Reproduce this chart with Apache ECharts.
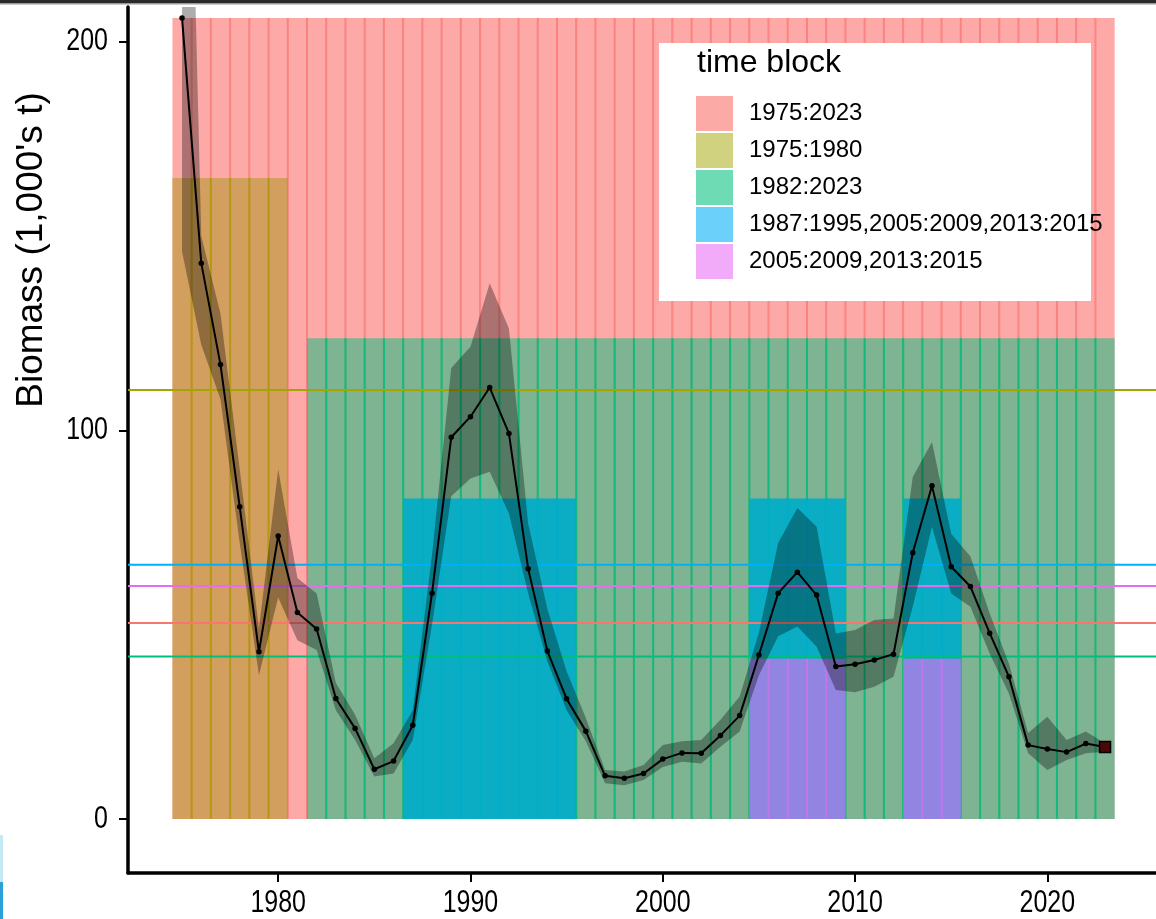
<!DOCTYPE html>
<html>
<head>
<meta charset="utf-8">
<script src="https://cdn.jsdelivr.net/npm/echarts@6/dist/echarts.min.js"></script>
<style>
  html, body { margin: 0; padding: 0; background: #ffffff; }
  #chart { width: 1156px; height: 919px; }
</style>
</head>
<body>
<div id="chart"></div>
<script>
// Annual biomass estimates (1,000's t) with their uncertainty band
const years = [1975,1976,1977,1978,1979,1980,1981,1982,1983,1984,1985,1986,1987,1988,1989,1990,1991,1992,1993,1994,1995,1996,1997,1998,1999,2000,2001,2002,2003,2004,2005,2006,2007,2008,2009,2010,2011,2012,2013,2014,2015,2016,2017,2018,2019,2020,2021,2022,2023];
const biomass = [206.1,143.0,116.9,80.3,43.0,72.8,53.1,48.9,31.0,23.3,12.8,14.9,24.1,58.1,98.2,103.5,111.0,99.2,64.4,43.2,30.9,22.6,11.1,10.5,11.7,15.4,17.0,16.9,21.5,26.6,42.2,58.1,63.5,57.6,39.2,39.8,40.9,42.4,68.5,85.7,64.9,59.8,47.8,36.6,19.0,18.0,17.2,19.4,18.5];
const upper = [350,150,130,90,49,90,62,58,35,26.8,15.6,19.5,28,68,116,121.5,137.8,126.2,76,54,38,26,12.6,12.2,13.9,19.0,20.0,20.3,25.5,31.5,48,71,80,75.2,47.7,48.6,51.2,51.6,88,97,73.4,67.5,52.9,40,22.1,26.3,20.3,22.5,19.5];
const lower = [146,122,108,71,37,57,46,43.5,28,20.3,10.9,11.7,20.3,50,83,87.6,89.3,78.6,58,40.5,28,20,9.2,8.7,10,13.4,14.7,14.3,18.6,22.5,37,47,49.5,44.3,33.2,32.6,34,36.6,54.6,75.2,58,54.6,42.6,32.3,16.9,12.6,15.2,16.9,17.3];

// Time blocks: label and the year ranges each one covers
const blockNames = ['1975:2023', '1975:1980', '1982:2023', '1987:1995,2005:2009,2013:2015', '2005:2009,2013:2015'];
const blockRanges = [
  [[1975, 2023]],
  [[1975, 1980]],
  [[1982, 2023]],
  [[1987, 1995], [2005, 2009], [2013, 2015]],
  [[2005, 2009], [2013, 2015]]
];

const xTicks = [1980, 1990, 2000, 2010, 2020];
const yTicks = [0, 100, 200];

// Styling per block (ggplot hue palette)
const blockBase = ['#F8766D', '#A3A500', '#00BF7D', '#00B0F6', '#E76BF3'];
const blockFill = ['rgba(250,112,108,0.6)', 'rgba(168,150,22,0.5)', 'rgba(0,191,125,0.5)', 'rgba(0,172,200,0.92)', 'rgba(231,107,243,0.62)'];
const blockSeam = ['rgba(248,100,100,0.6)', 'rgba(170,160,0,0.75)', 'rgba(0,191,125,0.85)', 'rgba(0,176,246,0.3)', 'rgba(231,107,243,0.6)'];
const blockKey = ['rgba(248,118,109,0.62)', 'rgba(163,165,0,0.5)', 'rgba(0,191,125,0.57)', 'rgba(0,176,246,0.58)', 'rgba(231,107,243,0.57)'];

const FONT = "'Liberation Sans', Arial, Helvetica, sans-serif";
const TICK_FONT_SIZE = 32;
const TICK_SQUEEZE = 0.78;   // tick numerals are set in a condensed face

function yearsOf(ranges) {
  const out = [];
  ranges.forEach(function (r) { for (let y = r[0]; y <= r[1]; y++) out.push(y); });
  return out;
}
function valueOf(year) { return biomass[years.indexOf(year)]; }

const maxB = Math.max.apply(null, biomass);
const nBlocks = blockNames.length;

// Each block is a row of yearly tiles; higher-priority blocks are shorter
const tileSeries = blockNames.map(function (name, b) {
  const ys = yearsOf(blockRanges[b]);
  const top = maxB * (nBlocks - b) / nBlocks;
  const data = ys.map(function (y) { return [y, top, ys.indexOf(y + 1) >= 0 ? 1 : 0]; });
  return {
    name: name,
    type: 'custom',
    z: 1 + b * 0.01,
    silent: true,
    clip: true,
    itemStyle: { color: blockKey[b] },
    encode: { x: 0, y: 1 },
    data: data,
    renderItem: function (params, api) {
      const yr = api.value(0), h = api.value(1), next = api.value(2);
      const a = api.coord([yr - 0.5, h]);
      const c = api.coord([yr + 0.5, 0]);
      const children = [{
        type: 'rect',
        shape: { x: a[0], y: a[1], width: c[0] - a[0], height: c[1] - a[1] },
        style: { fill: blockFill[b] }
      }];
      if (next) {
        children.push({
          type: 'line',
          shape: { x1: c[0], y1: a[1], x2: c[0], y2: c[1] },
          style: { stroke: blockSeam[b], lineWidth: 2 }
        });
      }
      return { type: 'group', children: children };
    }
  };
});

// Mean biomass within each block
const blockMeans = blockRanges.map(function (r) {
  const ys = yearsOf(r);
  return ys.reduce(function (s, y) { return s + valueOf(y); }, 0) / ys.length;
});

const meanSeries = {
  type: 'custom',
  z: 2,
  silent: true,
  data: blockMeans.map(function (m, i) { return [i, m]; }),
  encode: { y: 1 },
  renderItem: function (params, api) {
    const cs = params.coordSys;
    const y = api.coord([years[0], api.value(1)])[1];
    return {
      type: 'line',
      shape: { x1: cs.x, y1: y, x2: cs.x + cs.width, y2: y },
      style: { stroke: blockBase[params.dataIndex], lineWidth: 2 }
    };
  }
};

const bandSeries = {
  type: 'custom',
  z: 3,
  silent: true,
  clip: true,
  data: [[years[0], lower[0], upper[0]]],
  encode: { x: 0, y: 1 },
  renderItem: function (params, api) {
    const pts = [];
    for (let i = 0; i < years.length; i++) pts.push(api.coord([years[i], upper[i]]));
    for (let i = years.length - 1; i >= 0; i--) pts.push(api.coord([years[i], lower[i]]));
    return { type: 'polygon', shape: { points: pts }, style: { fill: 'rgba(0,0,0,0.32)' } };
  }
};

const lineData = years.map(function (y, i) {
  if (i === years.length - 1) {
    return { value: [y, biomass[i]], symbol: 'rect', symbolSize: 11,
             itemStyle: { color: '#4a0808', borderColor: '#000', borderWidth: 1.5 } };
  }
  return [y, biomass[i]];
});

const lineSeries = {
  type: 'line',
  z: 4,
  silent: true,
  data: lineData,
  symbol: 'circle',
  symbolSize: 5.5,
  showSymbol: true,
  itemStyle: { color: '#000' },
  lineStyle: { color: '#000', width: 2 },
  animation: false
};

const staticGraphics = [
  { id: 'legendBox', type: 'rect', z: 5, shape: { x: 659, y: 43, width: 432, height: 258 }, style: { fill: '#ffffff' } },
  { id: 'legendTitle', type: 'text', z: 11, x: 697, y: 63,
    style: { text: 'time block', fontSize: 32, fontFamily: FONT, fill: '#000', textAlign: 'left', textVerticalAlign: 'middle', verticalAlign: 'middle' } },
  { id: 'yName', type: 'text', z: 11, x: 32, y: 250, rotation: Math.PI / 2,
    style: { text: "Biomass (1,000's t)", fontSize: 37, fontFamily: FONT, fill: '#000', textAlign: 'center', textVerticalAlign: 'middle', verticalAlign: 'middle' } },
  { id: 'frameTop', type: 'rect', z: 11, shape: { x: 0, y: 0, width: 1156, height: 3 }, style: { fill: '#2a2a2a' } },
  { id: 'frameTop2', type: 'rect', z: 11, shape: { x: 0, y: 3, width: 1156, height: 1.5 }, style: { fill: '#9a9a9a' } },
  { id: 'edgeA', type: 'rect', z: 11, shape: { x: 0, y: 835, width: 3, height: 47 }, style: { fill: '#c4e8f4' } },
  { id: 'edgeB', type: 'rect', z: 11, shape: { x: 0, y: 882, width: 3, height: 37 }, style: { fill: '#2a9fd8' } }
];

const chart = echarts.init(document.getElementById('chart'), null, { renderer: 'canvas' });

chart.setOption({
  animation: false,
  backgroundColor: '#ffffff',
  grid: { left: 128, top: 7, right: 0, height: 866, containLabel: false },
  xAxis: {
    type: 'value',
    min: 1972.19,
    max: 2025.65,
    axisLine: { show: true, onZero: false, lineStyle: { color: '#000', width: 3.5 } },
    axisTick: { show: true, customValues: xTicks, length: 9, lineStyle: { color: '#000', width: 2 } },
    axisLabel: { show: false },
    splitLine: { show: false }
  },
  yAxis: {
    type: 'value',
    min: -13.9,
    max: 208.9,
    axisLine: { show: true, onZero: false, lineStyle: { color: '#000', width: 3.5 } },
    axisTick: { show: true, customValues: yTicks, length: 9, lineStyle: { color: '#000', width: 2 } },
    axisLabel: { show: false },
    splitLine: { show: false }
  },
  legend: {
    data: blockNames,
    orient: 'vertical',
    left: 696,
    top: 96,
    padding: 0,
    itemWidth: 37,
    itemHeight: 35,
    itemGap: 2,
    icon: 'rect',
    selectedMode: false,
    z: 10,
    textStyle: { fontSize: 24, fontFamily: FONT, color: '#000', padding: [0, 0, 0, 11] }
  },
  graphic: staticGraphics,
  series: tileSeries.concat([meanSeries, bandSeries, lineSeries])
});

// Tick numerals, placed with the axes' own scales and drawn condensed
const xAxisPx = chart.convertToPixel({ yAxisIndex: 0 }, -13.9);
const yAxisPx = chart.convertToPixel({ xAxisIndex: 0 }, 1972.19);
const tickLabels = [];
xTicks.forEach(function (v, i) {
  tickLabels.push({
    id: 'xl' + i, type: 'text', z: 11,
    x: chart.convertToPixel({ xAxisIndex: 0 }, v), y: xAxisPx + 30,
    scaleX: TICK_SQUEEZE,
    style: { text: String(v), fontSize: TICK_FONT_SIZE, fontFamily: FONT, fill: '#000',
             textAlign: 'center', textVerticalAlign: 'middle', verticalAlign: 'middle' }
  });
});
yTicks.forEach(function (v, i) {
  tickLabels.push({
    id: 'yl' + i, type: 'text', z: 11,
    x: yAxisPx - 20, y: chart.convertToPixel({ yAxisIndex: 0 }, v),
    scaleX: TICK_SQUEEZE,
    style: { text: String(v), fontSize: TICK_FONT_SIZE, fontFamily: FONT, fill: '#000',
             textAlign: 'right', textVerticalAlign: 'middle', verticalAlign: 'middle' }
  });
});
chart.setOption({ graphic: staticGraphics.concat(tickLabels) });
</script>
</body>
</html>
